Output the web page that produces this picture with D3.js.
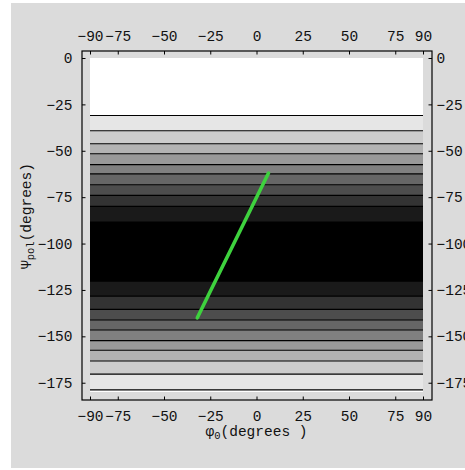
<!DOCTYPE html>
<html>
<head>
<meta charset="utf-8">
<script src="https://cdn.jsdelivr.net/npm/d3@7"></script>
<style>
  html, body { margin: 0; padding: 0; background: #ffffff; }
  svg { display: block; }
  .tick text, .lbl { font-family: "Liberation Mono", "DejaVu Sans Mono", monospace; font-size: 14.5px; fill: #111; }
</style>
</head>
<body>
<svg id="chart" width="465" height="470"></svg>
<script>
// Axis ticks
const xTicks = [-90, -75, -50, -25, 0, 25, 50, 75, 90];
const yTicks = [0, -25, -50, -75, -100, -125, -150, -175];

// Contour boundaries (degrees of Psi_pol), top to bottom
const contourLevels = [-31, -39.2, -46.2, -51.6, -57.5, -62.5, -68.3, -74, -80, -88.5,
                       -120.3, -128.3, -135.5, -141.2, -146.6, -152.3, -157.5, -163.3, -170.4, -178.9];
// Gray level of each band between successive boundaries (1 = white, 0 = black)
const bandGray = [1.0, 0.9, 0.8, 0.7, 0.6, 0.5, 0.4, 0.3, 0.2, 0.1, 0.0,
                  0.1, 0.2, 0.3, 0.4, 0.5, 0.6, 0.7, 0.8, 0.9, 1.0];

// Green trajectory: phi_0 vs Psi_pol
const curvePhi = [-32, 6.5];
const curvePsi = [-140, -62];

const svg = d3.select("#chart");

// page panel
svg.append("rect").attr("x", 11).attr("y", 3).attr("width", 454).attr("height", 465).attr("fill", "#dbdbdb");

const x = d3.scaleLinear().domain([-90, 90]).range([90, 423]);
const y = d3.scaleLinear().domain([0, -180]).range([58, 392]);

// frame box around the plot region
const pad = 8;
const fx0 = x.range()[0] - pad, fx1 = x.range()[1] + 9;
const fy0 = y.range()[0] - 7, fy1 = y.range()[1] + 8;

// bands
const edges = [0, ...contourLevels, -180];
const bands = bandGray.map((g, i) => ({ top: edges[i], bottom: edges[i + 1], g }));
svg.append("g").selectAll("rect").data(bands).join("rect")
  .attr("x", x(-90))
  .attr("width", x(90) - x(-90))
  .attr("y", d => y(d.top))
  .attr("height", d => y(d.bottom) - y(d.top))
  .attr("fill", d => { const v = Math.round(d.g * 255); return `rgb(${v},${v},${v})`; })
  .attr("shape-rendering", "crispEdges");

// contour lines
svg.append("g").selectAll("line").data(contourLevels).join("line")
  .attr("x1", x(-90)).attr("x2", x(90))
  .attr("y1", d => y(d)).attr("y2", d => y(d))
  .attr("stroke", "#000").attr("stroke-width", 1.2);

// green curve
const pts = curvePhi.map((p, i) => [p, curvePsi[i]]);
svg.append("path")
  .attr("d", d3.line().x(d => x(d[0])).y(d => y(d[1]))(pts))
  .attr("fill", "none")
  .attr("stroke", "#3ed23e")
  .attr("stroke-width", 3.6)
  .attr("stroke-linecap", "round");

// frame
svg.append("rect")
  .attr("x", fx0).attr("y", fy0)
  .attr("width", fx1 - fx0).attr("height", fy1 - fy0)
  .attr("fill", "none").attr("stroke", "#000").attr("stroke-width", 1.2);

const fmt = d => d < 0 ? "\u2212" + Math.abs(d) : String(d);

function styleAxis(g) {
  g.select(".domain").remove();
  g.selectAll(".tick line").attr("stroke", "#000").attr("stroke-width", 1);
}

svg.append("g").attr("transform", `translate(0,${fy0})`)
  .call(d3.axisTop(x).tickValues(xTicks).tickFormat(fmt).tickSize(-3.5).tickPadding(10.5))
  .call(styleAxis);
svg.append("g").attr("transform", `translate(0,${fy1})`)
  .call(d3.axisBottom(x).tickValues(xTicks).tickFormat(fmt).tickSize(-3.5).tickPadding(11))
  .call(styleAxis);
svg.append("g").attr("transform", `translate(${fx0},0)`)
  .call(d3.axisLeft(y).tickValues(yTicks).tickFormat(fmt).tickSize(-3.5).tickPadding(9.5))
  .call(styleAxis);
svg.append("g").attr("transform", `translate(${fx1},0)`)
  .call(d3.axisRight(y).tickValues(yTicks).tickFormat(fmt).tickSize(-3.5).tickPadding(4.5))
  .call(styleAxis);

svg.selectAll(".tick text").attr("font-family", null).attr("font-size", null);

// axis titles
const xt = svg.append("text").attr("class", "lbl")
  .attr("x", (x(-90) + x(90)) / 2).attr("y", 436).attr("text-anchor", "middle");
xt.append("tspan").text("\u03c6");
xt.append("tspan").attr("font-size", "10.5px").attr("dy", 3).text("0");
xt.append("tspan").attr("dy", -3).text("(degrees )");

const yt = svg.append("text").attr("class", "lbl")
  .attr("transform", `translate(31,${(y(0) + y(-180)) / 2 - 9}) rotate(-90)`)
  .attr("text-anchor", "middle");
yt.append("tspan").text("\u03a8");
yt.append("tspan").attr("font-size", "10.5px").attr("dy", 3).text("pol");
yt.append("tspan").attr("dy", -3).text("(degrees)");
</script>
</body>
</html>
